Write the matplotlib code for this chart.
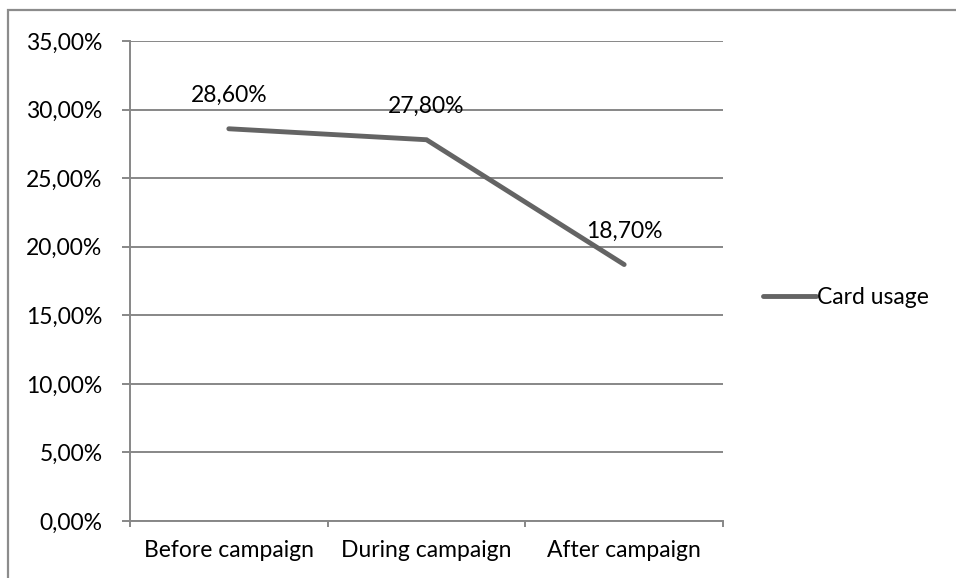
import matplotlib.pyplot as plt
from matplotlib.lines import Line2D
from matplotlib.patches import Rectangle

categories = ['Before campaign', 'During campaign', 'After campaign']
card_usage = [28.6, 27.8, 18.7]
y_ticks = [0, 5, 10, 15, 20, 25, 30, 35]

W, H = 956, 578
FS = 16.5
plt.rcParams['font.family'] = ['Lato', 'DejaVu Sans']

fig = plt.figure(figsize=(W / 100, H / 100), dpi=100)
# plot area in pixel terms: x 130..723, y 41..521
ax = fig.add_axes([130 / W, 1 - 521 / H, (723 - 130) / W, (521 - 41) / H])

grid_c = '#878787'
line_c = '#646464'

x = list(range(len(categories)))
ax.plot(x, card_usage, color=line_c, lw=3.5, solid_capstyle='round',
        solid_joinstyle='miter', zorder=3, label='Card usage')

for xi, v in zip(x, card_usage):
    ax.annotate(f'{v:.2f}%'.replace('.', ','), (xi, v), xytext=(0, 24),
                textcoords='offset points', ha='center', va='center',
                fontsize=FS, color='black')

ax.set_xlim(-0.5, len(categories) - 0.5)
ax.set_ylim(0, 35)
ax.set_yticks(y_ticks)
ax.set_yticklabels([f'{t:.2f}%'.replace('.', ',') for t in y_ticks])
ax.yaxis.grid(True, color=grid_c, lw=1.4)
ax.set_axisbelow(True)

# category ticks sit between categories
ax.set_xticks([-0.5, 0.5, 1.5, 2.5])
ax.set_xticklabels([])
ax.set_xticks(x, minor=True)
ax.set_xticklabels(categories, minor=True)
ax.tick_params(axis='x', which='minor', length=0, pad=14, labelsize=FS)
ax.tick_params(axis='x', which='major', length=4.5, width=1.4, color=grid_c)
ax.tick_params(axis='y', length=5.8, width=1.4, color=grid_c, pad=14,
               labelsize=FS)

for s in ['top', 'right']:
    ax.spines[s].set_visible(False)
for s in ['left', 'bottom']:
    ax.spines[s].set_color(grid_c)
    ax.spines[s].set_linewidth(1.4)

handle = Line2D([], [], color=line_c, lw=3.5, solid_capstyle='round')
fig.legend([handle], ['Card usage'], loc='center left',
           bbox_to_anchor=(763 / W, 1 - 298 / H), frameon=False,
           fontsize=FS, handlelength=2.3, handletextpad=0.05,
           borderpad=0, borderaxespad=0)

# outer chart border
fig.patches.append(Rectangle((7.5 / W, -0.1), 1.2, 1 - 10.5 / H + 0.1,
                             transform=fig.transFigure, fill=False,
                             edgecolor='#8c8c8c', lw=1.6))

fig.savefig('out.png', dpi=100)
